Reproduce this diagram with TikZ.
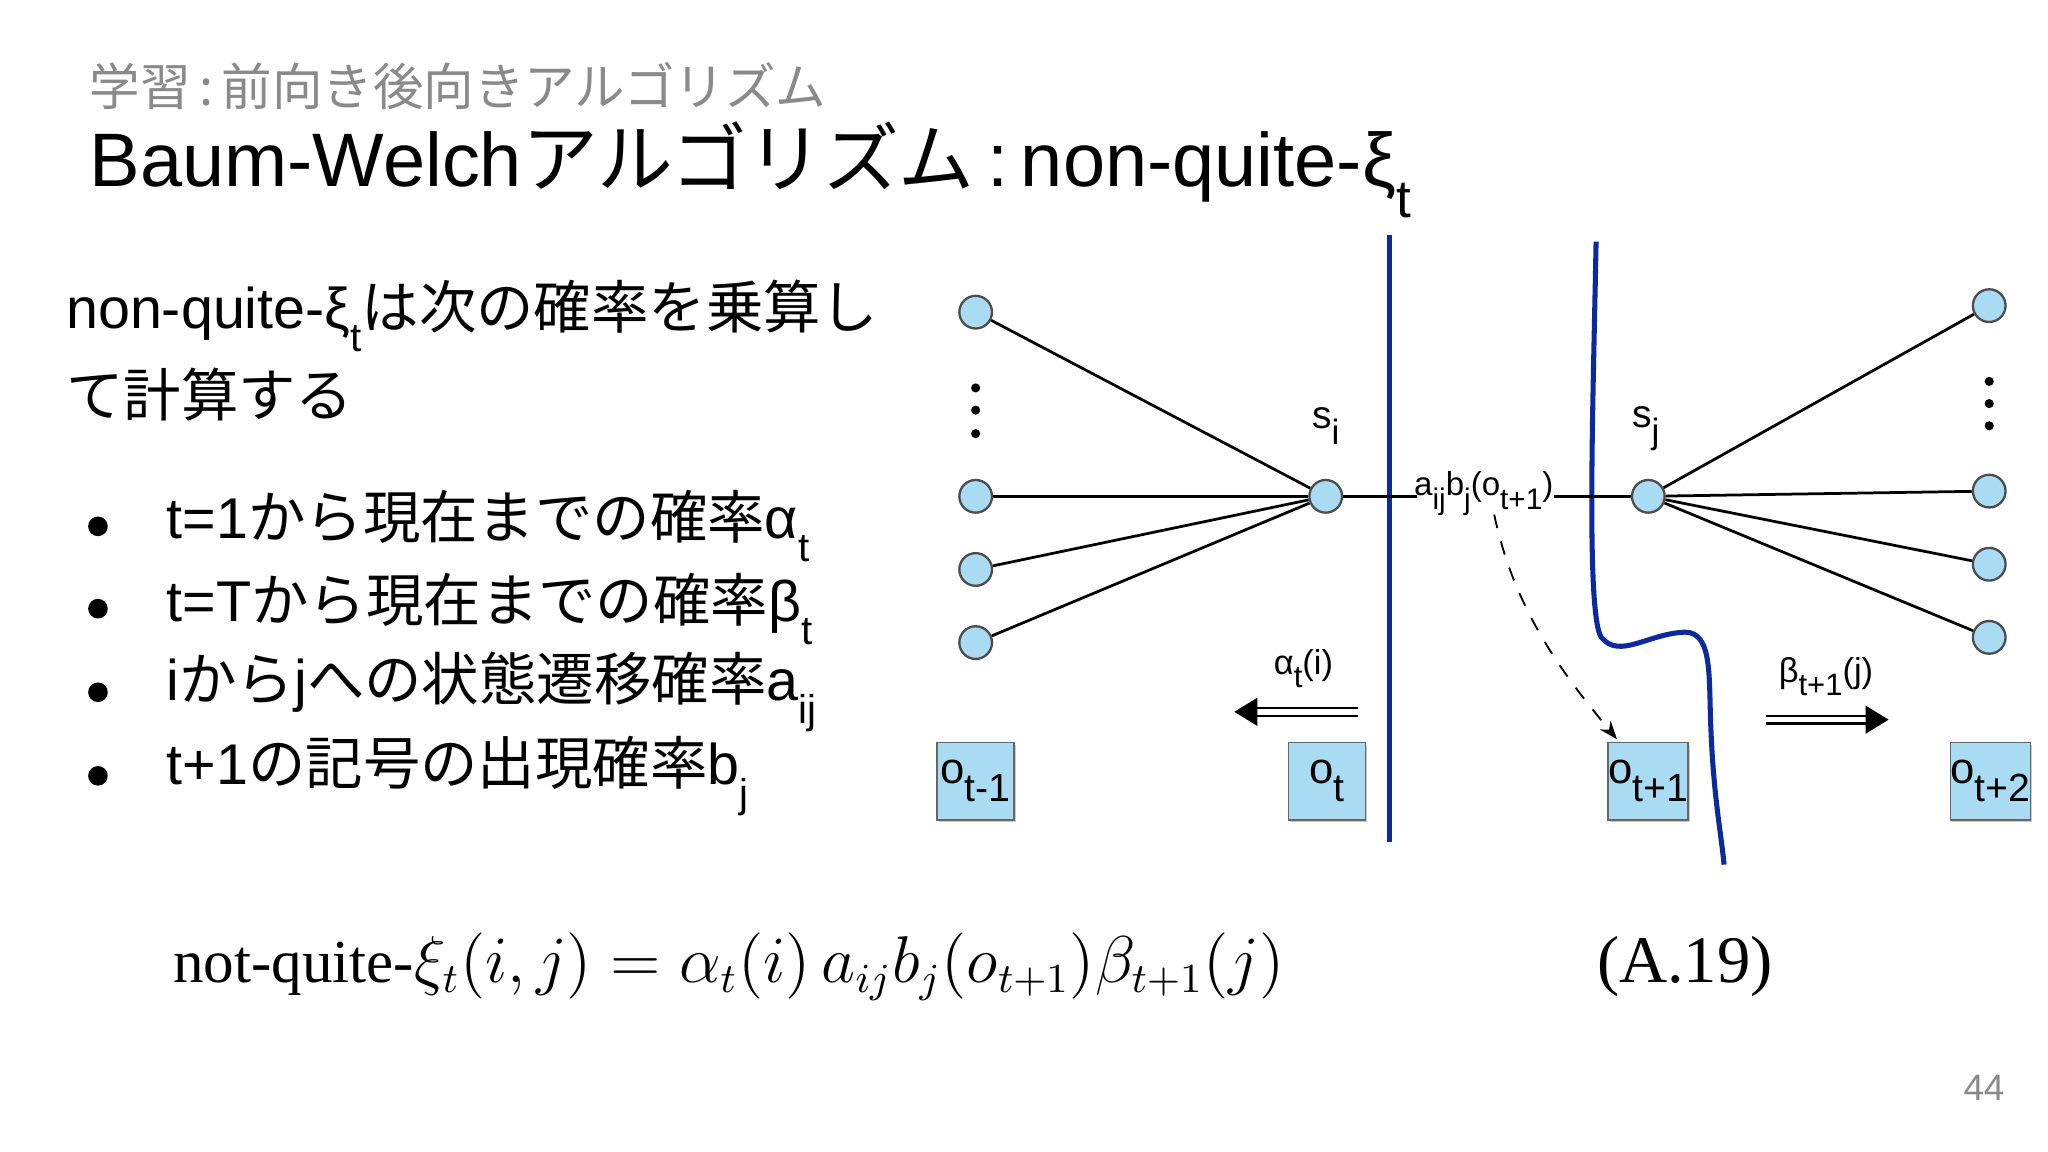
\documentclass[tikz,border=0pt]{standalone}
\usepackage{amsmath}
\usepackage{graphicx}
\usepackage{fontspec}
\setmainfont{Liberation Sans}
\newfontfamily\jp{Noto Sans CJK JP}
\newfontfamily\tms{Liberation Serif}
\usetikzlibrary{arrows.meta,shadows}
\definecolor{nodeblue}{HTML}{A9DCF3}
\definecolor{lineblue}{HTML}{0A2A9E}
\definecolor{hdrgray}{HTML}{8A8A8A}
\newcommand\lw[1]{\raisebox{-0.4em}{$\scriptstyle\text{#1}$}}
\newcommand\lwb[1]{\raisebox{-0.4em}{\scalebox{0.9}{#1}}}
\tikzset{
  st/.style={circle,draw=black!70,fill=nodeblue,minimum size=0.25cm,inner sep=0pt,line width=0.5pt},
  obs/.style={draw=black!60,fill=nodeblue,minimum width=0.59cm,minimum height=0.59cm,inner sep=0pt,drop shadow={shadow xshift=0.3pt,shadow yshift=-0.6pt,opacity=0.4},font=\fontsize{9.5}{10}\selectfont},
  edge/.style={line width=0.6pt,black},
  dott/.style={circle,fill=black,inner sep=0pt,minimum size=0.07cm},
  blue/.style={lineblue,line width=1.1pt},
  dbl/.style={double,double distance=1.2pt,line width=0.5pt,-{Triangle[length=5pt,width=6pt]}},
  lbl/.style={font=\fontsize{7.5}{9}\selectfont,inner sep=1pt}
}
\begin{document}
\begin{tikzpicture}[x=0.01cm,y=-0.01cm]
\useasboundingbox (0,0) rectangle (1568,882);
% headers
\node[anchor=west,text=hdrgray,inner sep=0] (hdr) at (68,66) {\jp\fontsize{11}{11}\selectfont 学習\,:\,前向き後向きアルゴリズム};
\node[anchor=west,inner sep=0] (ttl) at (68,130) {\fontsize{16.5}{17}\selectfont Baum-Welch{\jp アルゴリズム}\,:\,non-quite-ξ\lw{t}};
% body
\node[anchor=west,inner sep=0] (b1) at (50,242) {\fontsize{12.5}{12}\selectfont non-quite-ξ\lw{t}{\jp は次の確率を乗算し}};
\node[anchor=west,inner sep=0] (b2) at (50,302) {\jp\fontsize{12.5}{12}\selectfont て計算する};
\foreach \y/\t [count=\k] in {
 403/{t=1{\jp から現在までの確率}α\lw{t}},
 466/{t=T{\jp から現在までの確率}β\lw{t}},
 530/{i{\jp から}j{\jp への状態遷移確率}a\lw{ij}},
 594/{t+1{\jp の記号の出現確率}b\lw{j}}}{
  \node[dott,minimum size=0.15cm] (bd\k) at (75,\y) {};
  \node[anchor=west,inner sep=0] (bt\k) at (127,\y) {\fontsize{12.5}{12}\selectfont \t};
}
% blue lines
\draw[blue] (1064,180) coordinate (v1) -- (1064,645) coordinate (v2);
\draw[blue] (1222,185) coordinate (c1) .. controls (1220,300) and (1214,470) .. (1226,488)
  .. controls (1240,505) and (1262,485) .. (1290,484)
  .. controls (1312,484) and (1308,520) .. (1310,560)
  .. controls (1312,610) and (1318,640) .. (1320,662) coordinate (c2);
% state nodes
\node[st] (si) at (1015,380) {};
\node[st] (sj) at (1262,380) {};
\foreach \y [count=\k] in {239,380,436,492}{\node[st] (l\k) at (747,\y) {}; \draw[edge] (l\k) -- (si);}
\foreach \y [count=\k] in {234,376,432,488}{\node[st] (r\k) at (1523,\y) {}; \draw[edge] (sj) -- (r\k);}
\foreach \y [count=\k] in {297,314,332}{\node[dott] (ld\k) at (747,\y) {};}
\foreach \y [count=\k] in {292,309,326}{\node[dott] (rd\k) at (1523,\y) {};}
\node[lbl,font=\fontsize{8.5}{9}\selectfont] (sil) at (1015,326) {s\lwb{i}};
\node[lbl,font=\fontsize{8.5}{9}\selectfont] (sjl) at (1260,328) {s\lwb{j}};
\node[lbl,font=\fontsize{7.2}{8}\selectfont] (ab) at (1136,378) {a\lwb{ij}b\lwb{j}(o\lwb{t+1})};
\draw[edge] (si) -- (1085,380);
\draw[edge] (1190,380) -- (sj);
% observations
\node[obs] (o1) at (747,598) {o\lwb{t-1}};
\node[obs] (o2) at (1016,598) {o\lwb{t}};
\node[obs] (o3) at (1262,598) {o\lwb{t+1}};
\node[obs] (o4) at (1524,598) {o\lwb{t+2}};
\draw[dashed,line width=0.4pt,-{Stealth[length=4pt]}] (1144,394) .. controls (1160,470) and (1200,520) .. (1238,566);
% messages
\node[lbl] (al) at (998,512) {α\lwb{t}(i)};
\node[lbl] (bl) at (1398,518) {β\lwb{t+1}(j)};
\coordinate (a1) at (1040,545); \coordinate (a2) at (945,545);
\coordinate (b1s) at (1352,551); \coordinate (b2s) at (1446,551);
\draw[dbl] (a1) -- (a2);
\draw[dbl] (b1s) -- (b2s);
% formula
\node[anchor=west,inner sep=0] (eq) at (132,740) {\fontsize{13.3}{14}\selectfont\tms not-quite-$\xi_t(i,j)=\alpha_t(i)\,a_{ij}b_j(o_{t+1})\beta_{t+1}(j)$};
\node[inner sep=0] (eqn) at (1290,740) {\fontsize{14.5}{15}\selectfont\tms (A.19)};
\node[text=hdrgray,inner sep=0] (pg) at (1519,833) {\fontsize{8}{8}\selectfont 44};
\end{tikzpicture}
\end{document}
